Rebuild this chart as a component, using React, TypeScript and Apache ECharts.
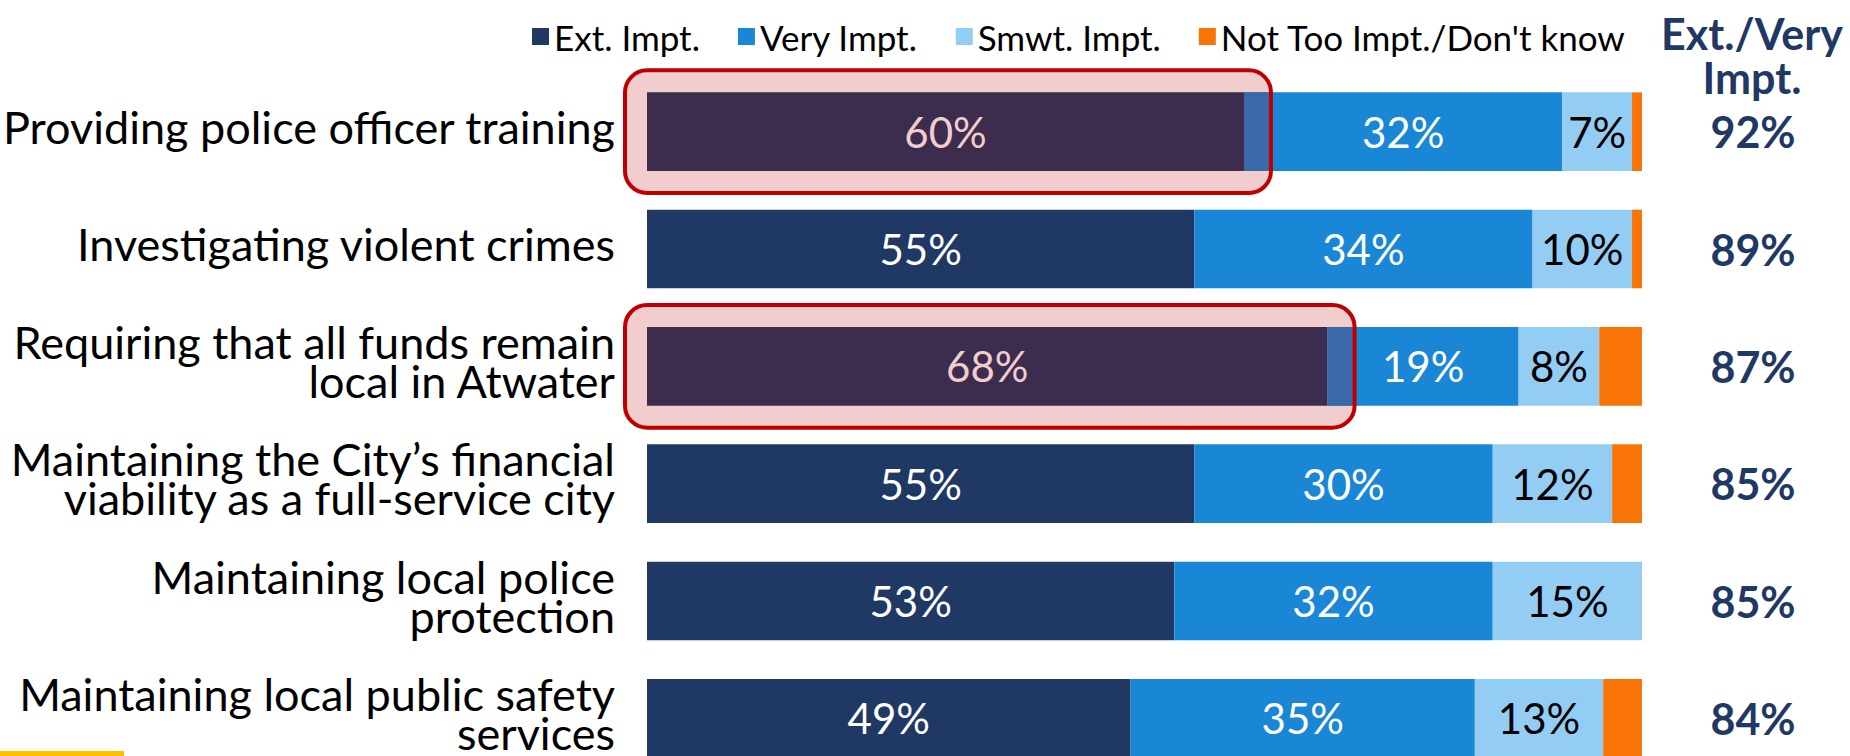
import React, { useEffect, useRef } from "react";
import * as echarts from "echarts";

const categories = [
  "Providing police officer training",
  "Investigating violent crimes",
  "Requiring that all funds remain\nlocal in Atwater",
  "Maintaining the City’s financial\nviability as a full-service city",
  "Maintaining local police\nprotection",
  "Maintaining local public safety\nservices",
];
const extImpt = [60, 55, 68.4, 55, 53, 48.6];
const veryImpt = [32, 34, 19.2, 30, 32, 34.6];
const smwtImpt = [7, 10, 8.1, 12, 15, 12.9];
const notTooImpt = [1, 1, 4.3, 3, 0, 3.9];
const extVeryTotals = [92, 89, 87, 85, 85, 84];
const highlightedRows = [0, 2];
const legendNames = ["Ext. Impt.", "Very Impt.", "Smwt. Impt.", "Not Too Impt./Don't know"];
const headerText = "Ext./Very\nImpt.";

const FONT = "Lato";
const NAVY = "#1f3864";
const BLUE = "#1a87d6";
const LIGHT = "#93cdf4";
const ORANGE = "#f87406";

export default function App() {
  const ref = useRef<HTMLDivElement>(null);
  useEffect(() => {
    document.body.style.margin = "0";
    document.body.style.overflow = "hidden";
    document.documentElement.style.overflow = "hidden";
    const chart = echarts.init(ref.current!, null, { renderer: "svg" });
    const pct = (p: any) => Math.round(p.value) + "%";
    const darkData = extImpt.map((v, i) =>
      highlightedRows.includes(i)
        ? { value: v, itemStyle: { color: "#3c2c4e" }, label: { color: "#f2cdce" } }
        : v
    );
    const labelBase = { show: true, position: "inside", fontFamily: FONT, fontSize: 42, formatter: pct };
    chart.setOption({
      animation: false,
      legend: {
        data: legendNames,
        left: 527,
        top: 14,
        icon: "rect",
        itemWidth: 17,
        itemHeight: 17,
        itemGap: 38,
        selectedMode: false,
        textStyle: { fontFamily: FONT, fontSize: 35, color: "#000" },
      },
      grid: { left: 647, right: 208, top: 73, bottom: 0, containLabel: false },
      xAxis: { type: "value", min: 0, max: 100, show: false },
      yAxis: [
        {
          type: "category",
          inverse: true,
          data: categories,
          axisLine: { show: false },
          axisTick: { show: false },
          axisLabel: { show: false },
        },
        {
          type: "category",
          inverse: true,
          position: "right",
          data: extVeryTotals.map((v) => v + "%"),
          axisLine: { show: false },
          axisTick: { show: false },
          axisLabel: { margin: 111, align: "center", fontFamily: FONT, fontSize: 43, fontWeight: "bold", color: NAVY },
        },
      ],
      series: [
        { name: legendNames[0], type: "bar", stack: "t", barCategoryGap: "33%", itemStyle: { color: NAVY }, label: { ...labelBase, color: "#fff" }, data: darkData },
        { name: legendNames[1], type: "bar", stack: "t", itemStyle: { color: BLUE }, label: { ...labelBase, color: "#fff" }, data: veryImpt },
        { name: legendNames[2], type: "bar", stack: "t", itemStyle: { color: LIGHT }, label: { ...labelBase, color: "#000" }, data: smwtImpt },
        { name: legendNames[3], type: "bar", stack: "t", itemStyle: { color: ORANGE }, label: { show: false }, data: notTooImpt },
      ],
    });

    const y0 = chart.convertToPixel({ yAxisIndex: 0 }, 0) as number;
    const y1 = chart.convertToPixel({ yAxisIndex: 0 }, 1) as number;
    const band = Math.abs(y1 - y0);
    const barH = band * 0.67;
    const xStart = chart.convertToPixel({ xAxisIndex: 0 }, 0) as number;
    const elements: any[] = [
      {
        type: "text",
        x: 1752,
        y: 55,
        z: 10,
        style: { text: headerText, fill: NAVY, fontFamily: FONT, fontSize: 43, fontWeight: "bold", align: "center", verticalAlign: "middle", lineHeight: 44 },
      },
      { type: "rect", x: 0, y: 751, z: 10, shape: { width: 124, height: 5 }, style: { fill: "#ffc000" } },
    ];
    categories.forEach((c, i) => {
      const yc = chart.convertToPixel({ yAxisIndex: 0 }, i) as number;
      elements.push({
        type: "text",
        x: xStart - 32,
        y: yc - 5,
        z: 10,
        style: { text: c, fill: "#000", fontFamily: FONT, fontSize: 45, lineHeight: 39, align: "right", verticalAlign: "middle" },
      });
    });
    highlightedRows.forEach((i) => {
      const yc = chart.convertToPixel({ yAxisIndex: 0 }, i) as number;
      const xEnd = chart.convertToPixel({ xAxisIndex: 0 }, extImpt[i]) as number;
      const bx = xStart - 22;
      const by = yc - barH / 2 - 22;
      const bw = xEnd - bx + 27;
      const bh = barH + 44;
      elements.push({ type: "rect", z: 1, shape: { x: bx, y: by, width: bw, height: bh, r: 22 }, style: { fill: "#f2cdce" } });
      elements.push({ type: "rect", z: 5, shape: { x: xEnd, y: yc - barH / 2, width: bx + bw - xEnd, height: barH }, style: { fill: "#3a68a8" } });
      elements.push({ type: "rect", z: 10, shape: { x: bx, y: by, width: bw, height: bh, r: 22 }, style: { fill: "none", stroke: "#c00000", lineWidth: 4 } });
    });
    chart.setOption({ graphic: { elements } });
    return () => chart.dispose();
  }, []);
  return <div ref={ref} style={{ width: 1850, height: 777 }} />;
}
